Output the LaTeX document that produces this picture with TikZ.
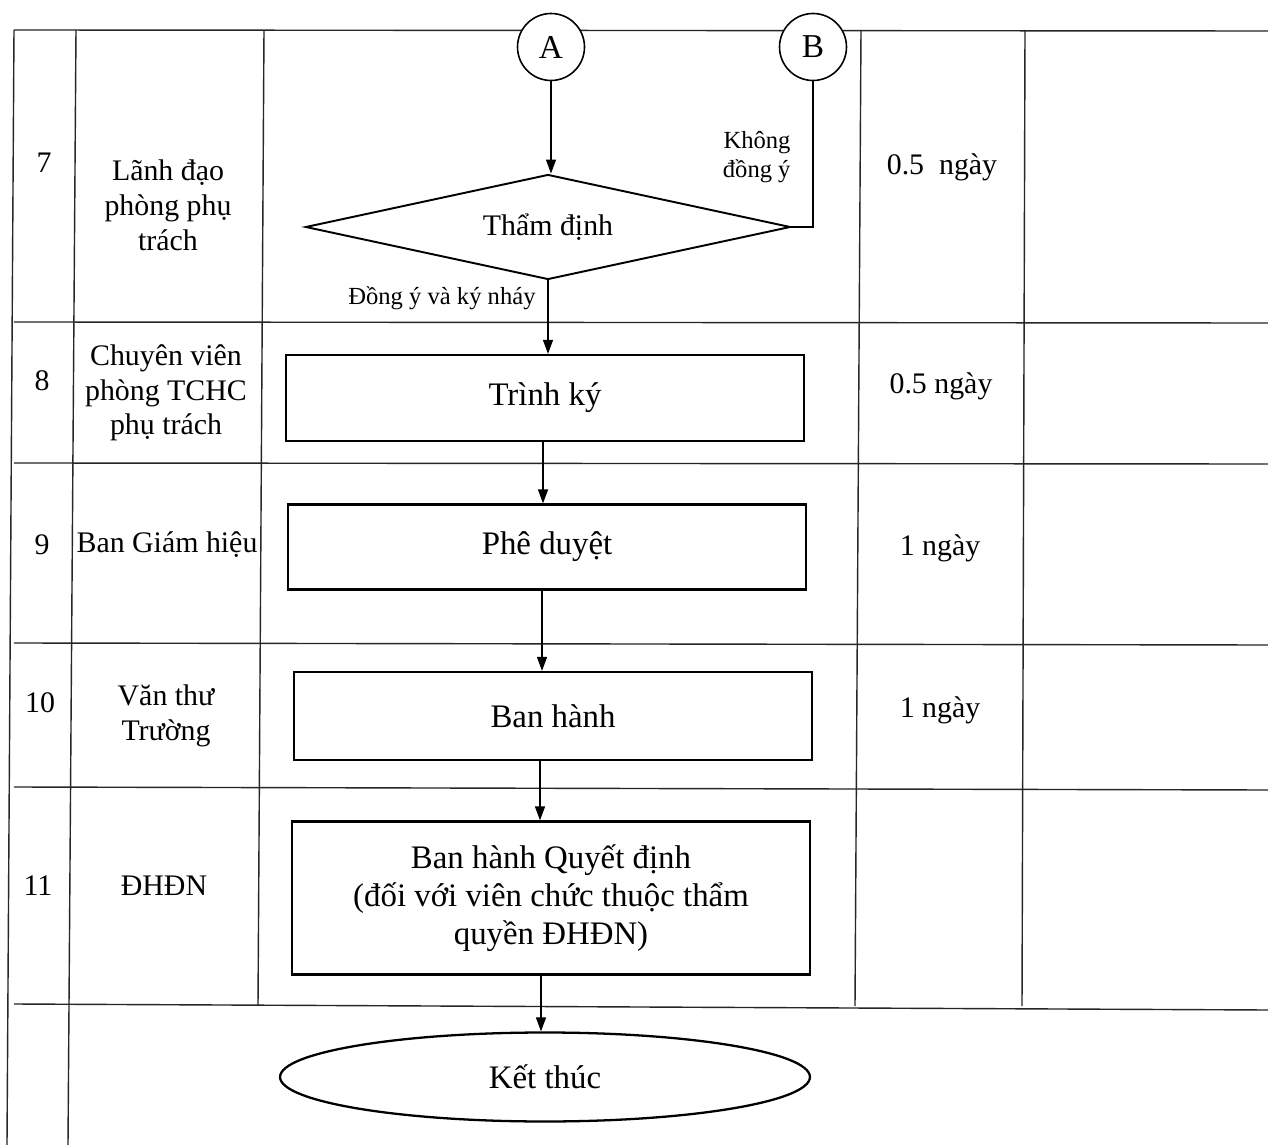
\documentclass[tikz,border=0pt]{standalone}
\usepackage{fontspec}
\setmainfont{Liberation Serif}
\usepackage{tikz}
\usetikzlibrary{arrows.meta,shapes.geometric}
\newcommand{\cellfont}{\fontsize{17}{19.8}\selectfont}
\newcommand{\boxfont}{\fontsize{18.7}{21.5}\selectfont}
\newcommand{\notefont}{\fontsize{14}{16.5}\selectfont}
\tikzset{
  gridline/.style={line width=0.8pt, draw=black!85},
  cell/.style={font=\cellfont, align=center, inner sep=1pt},
  stepbox/.style={
    draw,
    line width=1.3pt,
    fill=white,
    minimum width=10.36cm,
    align=center,
    font=\boxfont
  },
  decision/.style={
    diamond,
    aspect=4.6,
    draw,
    line width=1.1pt,
    fill=white,
    minimum width=9.7cm,
    minimum height=2.1cm,
    inner sep=0pt,
    font=\cellfont
  },
  jumper/.style={circle, draw, line width=0.9pt, fill=white, minimum size=1.34cm, inner sep=0pt, font=\fontsize{19}{21}\selectfont},
  terminal/.style={ellipse, draw, line width=1.3pt, fill=white, minimum width=10.6cm, minimum height=1.78cm, font=\boxfont},
  flowedge/.style={line width=0.8pt, -{Triangle[length=2.8mm, width=2mm]}},
  backedge/.style={line width=0.8pt},
  edgelabel/.style={font=\notefont, align=right, inner sep=1pt}
}

\begin{document}
\begin{tikzpicture}[x=0.02cm,y=-0.02cm]
\path[use as bounding box] (0,0) rectangle (1268,1145);
\fill[white] (0,0) rectangle (1268,1145);

% table rules
\draw[gridline] (14,30) -- (1268,31);
\foreach \ya/\yb in {322/323,463/464,643/645,787/790,1004/1010}
  \draw[gridline] (14,\ya) -- (1268,\yb);
\draw[gridline] (14,30) -- (7,1145);
\draw[gridline] (76,30) -- (68,1145);
\foreach \xa/\xb in {264/258,861/855,1025/1022}
  \draw[gridline] (\xa,30) -- (\xb,1006);

% row numbers, roles, durations
\node[cell] (no7) at (44,163) {7};
\node[cell] (no8) at (42,381) {8};
\node[cell] (no9) at (42,545) {9};
\node[cell] (no10) at (40,703) {10};
\node[cell] (no11) at (38,886) {11};

\node[cell] (role7) at (168,205) {Lãnh đạo\\phòng phụ\\trách};
\node[cell] (role8) at (166,393) {Chuyên viên\\phòng TCHC\\phụ trách};
\node[cell] (role9) at (167,545) {Ban Giám hiệu};
\node[cell] (role10) at (166,716) {Văn thư\\Trường};
\node[cell] (role11) at (164,886) {ĐHĐN};

\node[cell] (time7) at (942,167) {0.5~~ngày};
\node[cell] (time8) at (941,386) {0.5 ngày};
\node[cell] (time9) at (940,548) {1 ngày};
\node[cell] (time10) at (940,710) {1 ngày};

% flow
\node[jumper] (A) at (551,47) {A};
\node[jumper] (B) at (813,47) {B};
\node[decision] (thamdinh) at (548,227) {Thẩm định};
\node[stepbox, minimum height=1.72cm] (trinhky) at (545,398) {Trình ký};
\node[stepbox, minimum height=1.7cm] (pheduyet) at (547,547) {Phê duyệt};
\node[stepbox, minimum height=1.76cm] (banhanh) at (553,716) {Ban hành};
\node[stepbox, minimum height=3.06cm] (quyetdinh) at (551,898)
  {Ban hành Quyết định\\(đối với viên chức thuộc thẩm\\quyền ĐHĐN)};
\node[terminal] (ketthuc) at (545,1077) {Kết thúc};

\draw[flowedge] (A.south) -- (A.south |- thamdinh.north);
\draw[backedge] (B.south) |- node[edgelabel, pos=0.26, left=0.4cm] {Không\\đồng ý} (thamdinh.east);
\draw[flowedge] (thamdinh.south) -- node[edgelabel, pos=0.24, left=0.2cm] {Đồng ý và ký nháy} (thamdinh.south |- trinhky.north);
\foreach \a/\b/\dx in {trinhky/pheduyet/-2,pheduyet/banhanh/-5,banhanh/quyetdinh/-13,quyetdinh/ketthuc/-10}
  \draw[flowedge] ([xshift=\dx*0.02cm]\a.south) -- ([xshift=\dx*0.02cm]\a.south |- \b.north);
\end{tikzpicture}
\end{document}
